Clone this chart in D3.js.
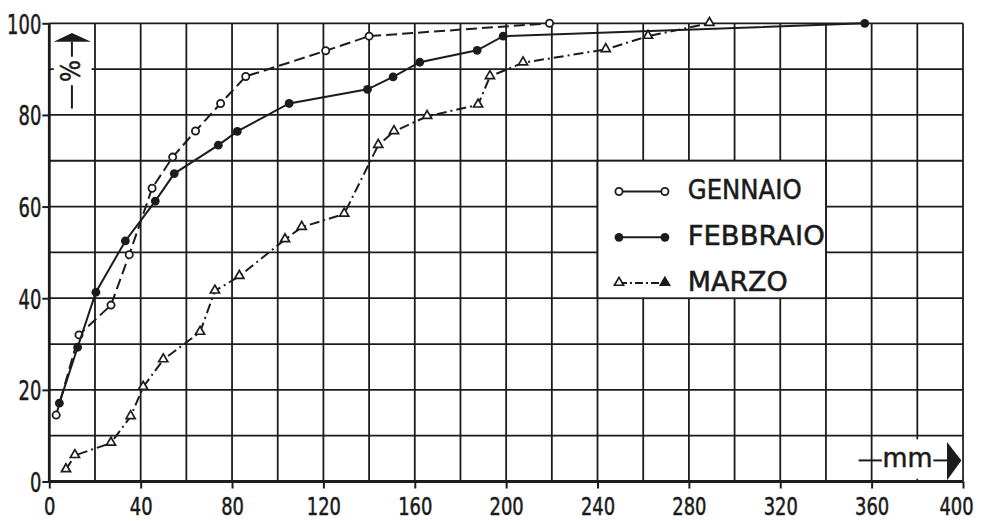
<!DOCTYPE html>
<html>
<head>
<meta charset="utf-8">
<script src="https://cdn.jsdelivr.net/npm/d3@7"></script>
<style>
	body { margin: 0; background: #fff; }
	text { font-family: "DejaVu Sans Condensed", "DejaVu Sans", sans-serif; fill: #1a1a1a; }
</style>
</head>
<body>
<div id="chart"></div>
<script>
// values (x in mm, y in %)
var gennaioX = [3, 13, 27, 35, 45, 54, 64, 75, 86, 121, 140, 219];
var gennaioY = [14.5, 32, 38.5, 49.5, 64, 70.8, 76.5, 82.5, 88.4, 94, 97.2, 100];

var febbraioX = [4.4, 12.4, 20.4, 33.3, 46.4, 54.7, 74, 82.3, 105, 139.3, 150.5, 162.2, 187.3, 198.7, 357];
var febbraioY = [17.1, 29.3, 41.3, 52.5, 61.2, 67.2, 73.4, 76.4, 82.5, 85.6, 88.3, 91.5, 94.1, 97.2, 100];

var marzoX = [7.3, 11.2, 27, 35.6, 41.1, 49.9, 66, 72.5, 83.2, 103.2, 110.5, 129.1, 144, 150.9, 165.4, 187.7, 192.9, 207.4, 243.6, 262.1, 289];
var marzoY = [2.6, 5.7, 8.4, 14.2, 20.6, 26.6, 32.6, 41.6, 44.8, 52.8, 55.5, 58.4, 73.4, 76.4, 79.7, 82.2, 88.4, 91.4, 94.3, 97.2, 100];

var seriesNames = ["GENNAIO", "FEBBRAIO", "MARZO"];
var xTickLabels = [0, 40, 80, 120, 160, 200, 240, 280, 320, 360, 400];
var yTickLabels = [0, 20, 40, 60, 80, 100];
var xGrid = d3.range(0, 401, 20);
var yGrid = d3.range(0, 101, 10);

var width = 982,
	height = 521;

var x = d3.scaleLinear().domain([0, 400]).range([49.3, 963]);
var y = d3.scaleLinear().domain([0, 100]).range([481.5, 23.3]);

var svg = d3.select("#chart")
	.append("svg")
	.attr("width", width)
	.attr("height", height);

svg.append("rect").attr("width", width).attr("height", height).attr("fill", "#fff");

var ink = "#1c1c1c";

/* ------- GRID -------*/
var grid = svg.append("g").attr("class", "grid");

grid.selectAll("line.v")
	.data(xGrid)
	.enter().append("line")
	.attr("class", "v")
	.attr("x1", function (d) { return x(d); })
	.attr("x2", function (d) { return x(d); })
	.attr("y1", y(0))
	.attr("y2", y(100))
	.attr("stroke", ink)
	.attr("stroke-width", function (d) { return d == 0 ? 2.8 : 1.8; });

grid.selectAll("line.h")
	.data(yGrid)
	.enter().append("line")
	.attr("class", "h")
	.attr("x1", x(0))
	.attr("x2", x(400))
	.attr("y1", function (d) { return y(d); })
	.attr("y2", function (d) { return y(d); })
	.attr("stroke", ink)
	.attr("stroke-width", function (d) { return d == 0 ? 2.8 : 1.8; });

/* ------- AXES (ticks + labels) -------*/
var xAxis = d3.axisBottom(x)
	.tickValues(xTickLabels)
	.tickSize(7)
	.tickPadding(7)
	.tickFormat(d3.format("d"));

var yAxis = d3.axisLeft(y)
	.tickValues(yTickLabels)
	.tickSize(7)
	.tickPadding(1)
	.tickFormat(d3.format("d"));

var gx = svg.append("g")
	.attr("transform", "translate(0," + y(0) + ")")
	.call(xAxis);
var gy = svg.append("g")
	.attr("transform", "translate(" + x(0) + ",0)")
	.call(yAxis);

[gx, gy].forEach(function (g) {
	g.select(".domain").remove();
	g.selectAll(".tick line").attr("stroke", ink).attr("stroke-width", 2);
	g.selectAll(".tick text")
		.attr("fill", ink)
		.attr("stroke", ink)
		.attr("stroke-width", 0.5)
		.attr("font-family", null)
		// narrow digits like the drawing
		.attr("textLength", function (d) { return String(d).length * 11.4; })
		.attr("lengthAdjust", "spacingAndGlyphs");
});
gx.selectAll(".tick text")
	.style("font-size", "25px")
	.attr("y", 15)
	.attr("dy", "0.74em")
	.attr("dx", function (d) { return d == 400 ? -7 : 0; });
gy.selectAll(".tick text").style("font-size", "27px").attr("dy", "0.37em");

/* ------- AXIS TITLES -------*/
// % with an upward arrow, top left inside the plot
svg.append("rect")
	.attr("x", x(2)).attr("y", y(99))
	.attr("width", x(18.5) - x(2)).attr("height", y(80.8) - y(99))
	.attr("fill", "#fff");

var pctX = x(9.9);
svg.append("path")
	.attr("d", "M" + pctX + "," + y(97.9) + " L" + x(18.3) + "," + y(96) + " L" + x(1.9) + "," + y(96) + " Z")
	.attr("fill", ink);
svg.append("line")
	.attr("x1", pctX).attr("x2", pctX)
	.attr("y1", y(96)).attr("y2", y(92.7))
	.attr("stroke", ink).attr("stroke-width", 2);
svg.append("line")
	.attr("x1", pctX).attr("x2", pctX)
	.attr("y1", y(86.5)).attr("y2", y(81.4))
	.attr("stroke", ink).attr("stroke-width", 2);
svg.append("text")
	.attr("transform", "translate(" + (pctX + 8.5) + "," + y(89.6) + ") rotate(-90)")
	.attr("text-anchor", "middle")
	.attr("textLength", 22)
	.attr("lengthAdjust", "spacingAndGlyphs")
	.attr("stroke", ink).attr("stroke-width", 0.5)
	.style("font-size", "27px")
	.text("%");

// mm with an arrow to the right, bottom right inside the plot
svg.append("rect")
	.attr("x", x(361.5)).attr("y", y(9.2))
	.attr("width", x(399.6) - x(361.5)).attr("height", y(0.6) - y(9.2))
	.attr("fill", "#fff");

var mmY = y(4.6);
svg.append("line")
	.attr("x1", x(354.3)).attr("x2", x(364.5))
	.attr("y1", mmY).attr("y2", mmY)
	.attr("stroke", ink).attr("stroke-width", 2);
svg.append("text")
	.attr("x", x(364.8)).attr("y", mmY + 7)
	.attr("textLength", 50)
	.attr("lengthAdjust", "spacingAndGlyphs")
	.attr("stroke", ink).attr("stroke-width", 0.5)
	.style("font-size", "27px")
	.text("mm");
svg.append("line")
	.attr("x1", x(387)).attr("x2", x(393))
	.attr("y1", mmY).attr("y2", mmY)
	.attr("stroke", ink).attr("stroke-width", 2);
svg.append("path")
	.attr("d", "M" + x(399.3) + "," + mmY + " L" + x(393) + "," + y(8.6) + " L" + x(393) + "," + y(0.3) + " Z")
	.attr("fill", ink);

/* ------- LEGEND -------*/
svg.append("rect")
	.attr("x", x(240)).attr("y", y(70))
	.attr("width", x(340) - x(240)).attr("height", y(40) - y(70))
	.attr("fill", "#fff")
	.attr("stroke", ink)
	.attr("stroke-width", 1.8);

/* ------- SERIES -------*/
var series = [
	{ name: seriesNames[0], xs: gennaioX, ys: gennaioY, dash: "11,5", marker: "open" },
	{ name: seriesNames[1], xs: febbraioX, ys: febbraioY, dash: null, marker: "filled" },
	{ name: seriesNames[2], xs: marzoX, ys: marzoY, dash: "10,4,2,4", marker: "triangle" }
];

var line = d3.line()
	.x(function (d) { return x(d[0]); })
	.y(function (d) { return y(d[1]); });

var triangle = d3.symbol().type(d3.symbolTriangle).size(36);

function drawMarker(g, kind, cx, cy, fillTri) {
	if (kind == "open") {
		g.append("circle").attr("cx", cx).attr("cy", cy).attr("r", 3.6)
			.attr("fill", "#fff").attr("stroke", ink).attr("stroke-width", 1.8);
	} else if (kind == "filled") {
		g.append("circle").attr("cx", cx).attr("cy", cy).attr("r", 4.4)
			.attr("fill", ink);
	} else {
		g.append("path").attr("d", triangle())
			.attr("transform", "translate(" + cx + "," + (cy - 0.5) + ")")
			.attr("fill", fillTri ? ink : "#fff")
			.attr("stroke", ink).attr("stroke-width", 1.7);
	}
}

var legendRows = [y(63.3), y(53.3), y(43.3)];

series.forEach(function (s, i) {
	var pts = s.xs.map(function (v, k) { return [v, s.ys[k]]; });
	var g = svg.append("g").attr("class", "series");

	g.append("path")
		.datum(pts)
		.attr("d", line)
		.attr("fill", "none")
		.attr("stroke", ink)
		.attr("stroke-width", 2)
		.attr("stroke-dasharray", s.dash);

	pts.forEach(function (p) {
		drawMarker(g, s.marker, x(p[0]), y(p[1]), false);
	});

	// legend entry
	var ly = legendRows[i];
	var lg = svg.append("g").attr("class", "legend-item");
	lg.append("line")
		.attr("x1", x(249.4)).attr("x2", x(269.5))
		.attr("y1", ly).attr("y2", ly)
		.attr("stroke", ink).attr("stroke-width", 2)
		.attr("stroke-dasharray", s.marker == "triangle" ? "8,3,2,3" : null);
	drawMarker(lg, s.marker, x(249.4), ly, false);
	drawMarker(lg, s.marker, x(269.5), ly, s.marker == "triangle");
	lg.append("text")
		.attr("x", x(279.5))
		.attr("y", ly + 8)
		.attr("textLength", [114, 137, 100][i])
		.attr("lengthAdjust", "spacingAndGlyphs")
		.attr("stroke", ink).attr("stroke-width", 0.5)
		.style("font-size", "27px")
		.text(s.name);
});
</script>
</body>
</html>
